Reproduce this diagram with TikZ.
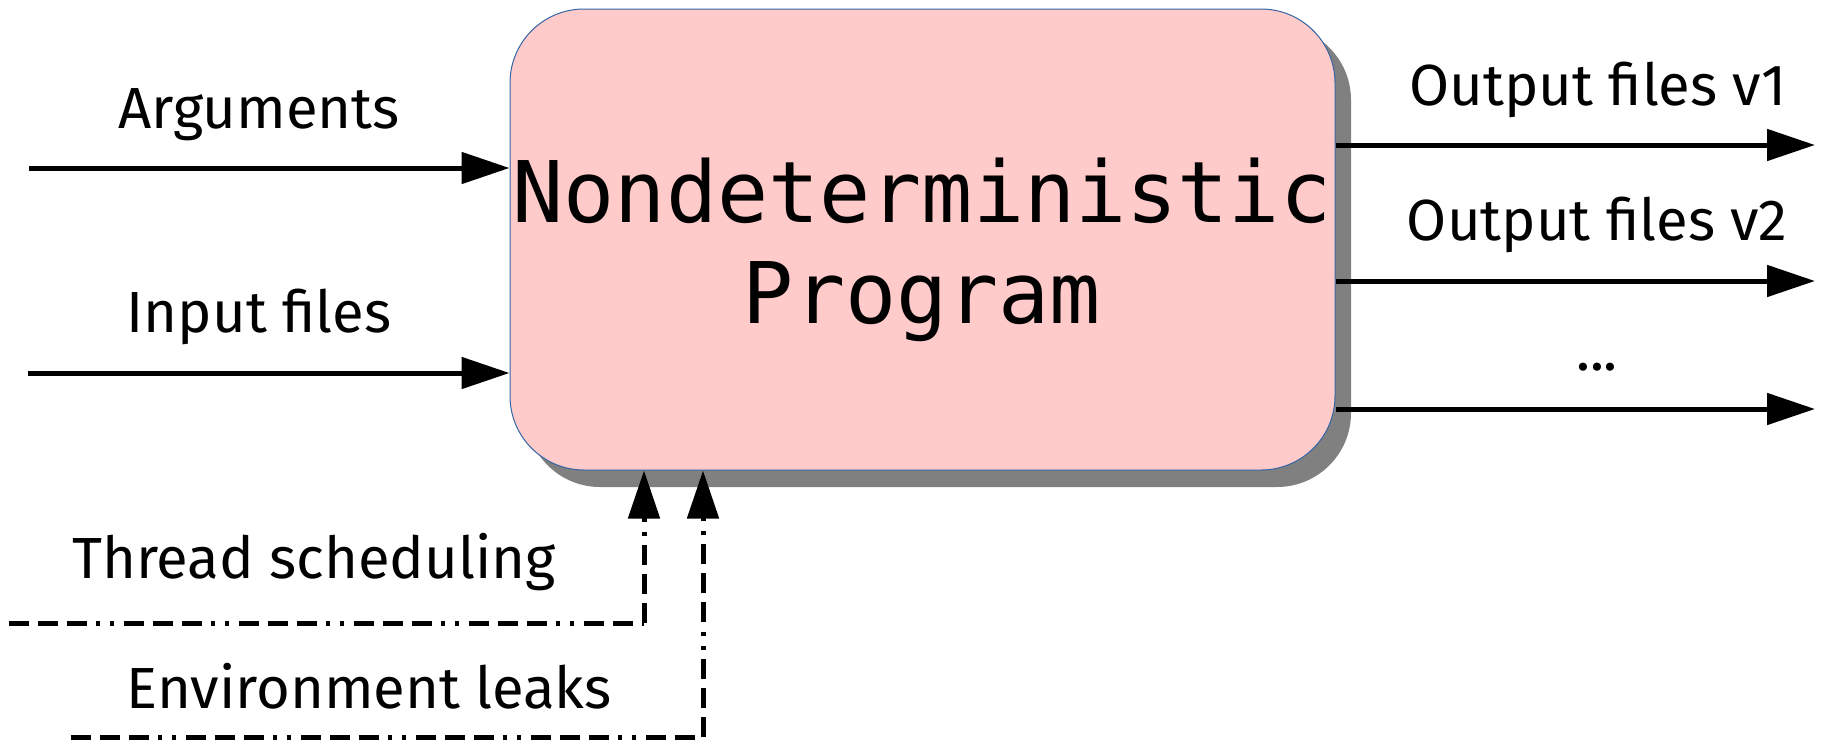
\documentclass[tikz,border=0pt]{standalone}
\usepackage{fontspec}
\setmainfont{Fira Sans}
\newfontfamily\titlefont{DejaVu Sans Mono}
\usetikzlibrary{arrows.meta}
\definecolor{boxfill}{HTML}{FFCACA}
\definecolor{boxline}{HTML}{3465A4}
\definecolor{shadowgray}{HTML}{808080}
\tikzset{
  lbl/.style={anchor=base, inner sep=0pt, font=\fontsize{58}{66}\selectfont},
  ttl/.style={anchor=base, inner sep=0pt, font=\titlefont\fontsize{85}{100}\selectfont},
  arr/.style={line width=5pt, -{Triangle[length=48pt,width=31pt]}},
  dashdotline/.style={line width=5pt, dash pattern=on 20pt off 9pt on 20pt off 9pt on 20pt off 9pt on 4pt off 10pt on 4pt off 10pt},
  progbox/.style={draw=boxline, line width=1pt, fill=boxfill, rounded corners=74pt, minimum width=825pt, minimum height=461pt, inner sep=0pt}
}
\begin{document}
\begin{tikzpicture}[x=1pt,y=-1pt]
\useasboundingbox (0,0) rectangle (1822,744);
% shadow
\fill[shadowgray, rounded corners=74pt] (526,26) rectangle (1351,487);
% box
\node[progbox] (box) at (922.5,239.5) {};
\node[ttl] (t1) at (922,222) {Nondeterministic};
\node[ttl] (t2) at (922,323) {Program};
% inputs
\coordinate (argstart) at (29,168);
\coordinate (instart) at (28,373);
\draw[arr] (argstart) -- (argstart -| box.west);
\draw[arr] (instart) -- (instart -| box.west);
\node[lbl] (arglbl) at (259,128) {Arguments};
\node[lbl] (inlbl) at (259,332) {Input files};
% outputs
\coordinate (o1end) at (1815,145);
\coordinate (o2end) at (1815,281);
\coordinate (o3end) at (1815,409);
\draw[arr] (o1end -| box.east) -- (o1end);
\draw[arr] (o2end -| box.east) -- (o2end);
\draw[arr] (o3end -| box.east) -- (o3end);
\node[lbl] (o1lbl) at (1598,105) {Output files v1};
\node[lbl] (o2lbl) at (1597,240) {Output files v2};
\node[lbl] (o3lbl) at (1597,370) {...};
% dashed inputs
\coordinate (tsstart) at (9,623);
\coordinate (tscorner) at (644,623);
\coordinate (elstart) at (71,737);
\coordinate (elcorner) at (703,737);
\draw[dashdotline] (tsstart) -- (tscorner);
\draw[dashdotline, arr] (tscorner) -- (tscorner |- box.south);
\draw[dashdotline] (elstart) -- (elcorner);
\draw[dashdotline, arr] (elcorner) -- (elcorner |- box.south);
\node[lbl] (tslbl) at (314,578) {Thread scheduling};
\node[lbl] (ellbl) at (369,708) {Environment leaks};
\end{tikzpicture}
\end{document}
